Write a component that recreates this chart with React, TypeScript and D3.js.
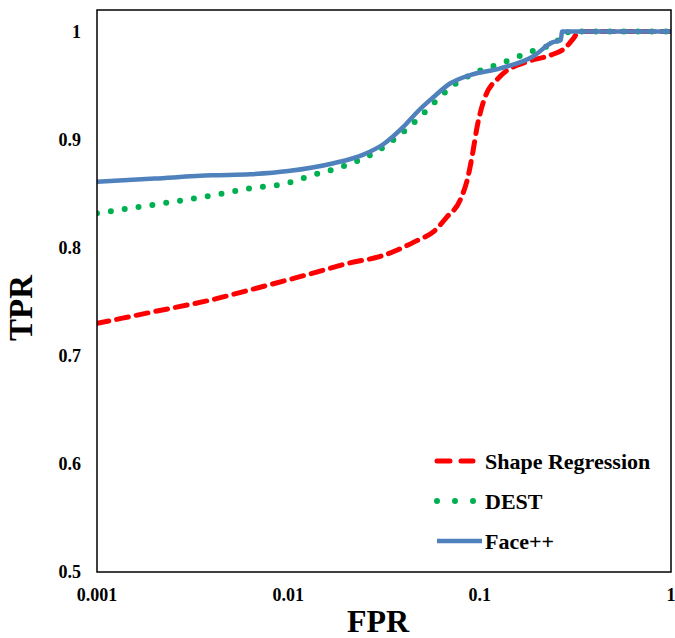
import React from 'react';
import * as d3 from 'd3';

// FPR / TPR points
const faceFpr = [0.001, 0.002, 0.004, 0.0063, 0.01, 0.017, 0.0245, 0.0315, 0.04, 0.048, 0.057, 0.07, 0.09, 0.128, 0.19, 0.24, 0.265, 0.27, 1];
const faceTpr = [0.861, 0.864, 0.867, 0.868, 0.871, 0.878, 0.886, 0.896, 0.912, 0.927, 0.939, 0.952, 0.96, 0.966, 0.977, 0.99, 0.992, 1.0, 1.0];

const destFpr = [0.001, 0.002, 0.0039, 0.0063, 0.01, 0.0127, 0.0205, 0.0283, 0.0374, 0.0487, 0.06, 0.07, 0.095, 0.131, 0.177, 0.21, 0.25, 0.27, 0.32, 1];
const destTpr = [0.832, 0.84, 0.848, 0.855, 0.86, 0.866, 0.877, 0.888, 0.903, 0.921, 0.937, 0.948, 0.962, 0.971, 0.98, 0.985, 0.989, 0.998, 1.0, 1.0];

const shapeFpr = [0.001, 0.002, 0.004, 0.0063, 0.0125, 0.021, 0.0302, 0.045, 0.06, 0.067, 0.079, 0.087, 0.092, 0.097, 0.106, 0.127, 0.176, 0.233, 0.28, 0.31, 0.33, 1];
const shapeTpr = [0.73, 0.741, 0.752, 0.761, 0.775, 0.786, 0.792, 0.805, 0.818, 0.828, 0.844, 0.866, 0.888, 0.912, 0.938, 0.958, 0.972, 0.978, 0.985, 0.994, 1.0, 1.0];

const xTicks = [0.001, 0.01, 0.1, 1];
const xTickLabels = ['0.001', '0.01', '0.1', '1'];
const yTicks = [0.5, 0.6, 0.7, 0.8, 0.9, 1];
const yTickLabels = ['0.5', '0.6', '0.7', '0.8', '0.9', '1'];

const seriesNames = ['Shape Regression', 'DEST', 'Face++'];

const FONT = '"Liberation Serif", "Times New Roman", serif';

export default function App() {
  const width = 675;
  const height = 638;
  const margin = { top: 10, right: 4, bottom: 66, left: 97 };

  const x = d3.scaleLog()
    .domain([0.001, 1])
    .range([margin.left, width - margin.right]);

  const y = d3.scaleLinear()
    .domain([0.5, 1.02])
    .range([height - margin.bottom, margin.top]);

  const line = d3.line<[number, number]>()
    .x(d => x(d[0]))
    .y(d => y(d[1]))
    .curve(d3.curveMonotoneX);

  const zip = (a: number[], b: number[]) => a.map((v, i) => [v, b[i]] as [number, number]);

  const series = [
    { name: seriesNames[0], pts: zip(shapeFpr, shapeTpr), color: '#ff0000', sw: 5, dash: '12 8', cap: 'round', legDash: '13 11', lx2: 473 },
    { name: seriesNames[1], pts: zip(destFpr, destTpr), color: '#00b050', sw: 6, dash: '0 14', cap: 'round', legDash: '0 18', lx2: 474 },
    { name: seriesNames[2], pts: zip(faceFpr, faceTpr), color: '#4f81bd', sw: 4.5, dash: undefined, cap: 'butt', legDash: undefined, lx2: 482 },
  ];

  const [x0, x1] = x.range();
  const [yb, yt] = y.range();

  return (
    <svg width={width} height={height} style={{ position: 'absolute', left: 0, top: 0, background: '#fff' }}>
      <defs>
        <clipPath id="plot">
          <rect x={x0} y={yt} width={x1 - x0} height={yb - yt} />
        </clipPath>
      </defs>

      {/* series */}
      <g clipPath="url(#plot)">
        {series.map(s => (
          <path
            key={s.name}
            d={line(s.pts) || ''}
            fill="none"
            stroke={s.color}
            strokeWidth={s.sw}
            strokeDasharray={s.dash}
            strokeLinecap={s.cap as any}
            strokeLinejoin="round"
          />
        ))}
      </g>

      {/* frame */}
      <rect x={x0} y={yt} width={x1 - x0} height={yb - yt} fill="none" stroke="#000" strokeWidth={1.5} />

      {/* y tick labels */}
      {yTicks.map((t, i) => (
        <text key={t} x={81} y={y(t)} dy="0.35em" textAnchor="end"
          fontFamily={FONT} fontWeight="bold" fontSize={18} fill="#000">
          {yTickLabels[i]}
        </text>
      ))}

      {/* x tick labels */}
      {xTicks.map((t, i) => (
        <text key={t} x={x(t)} y={601} textAnchor="middle"
          fontFamily={FONT} fontWeight="bold" fontSize={18} fill="#000">
          {xTickLabels[i]}
        </text>
      ))}

      {/* axis titles */}
      <text x={378} y={632} textAnchor="middle"
        fontFamily={FONT} fontWeight="bold" fontSize={32} fill="#000">FPR</text>
      <text transform={`translate(32, ${308}) rotate(-90)`} textAnchor="middle"
        fontFamily={FONT} fontWeight="bold" fontSize={33} fill="#000">TPR</text>

      {/* legend */}
      {series.map((s, i) => {
        const ly = 461 + i * 40;
        return (
          <g key={s.name}>
            <line x1={437} x2={s.lx2}
              y1={ly} y2={ly}
              stroke={s.color} strokeWidth={s.sw}
              strokeDasharray={s.legDash}
              strokeLinecap={s.cap as any} />
            <text x={485} y={ly} dy="0.35em" fontFamily={FONT} fontWeight="bold" fontSize={22} fill="#000">
              {s.name}
            </text>
          </g>
        );
      })}
    </svg>
  );
}
